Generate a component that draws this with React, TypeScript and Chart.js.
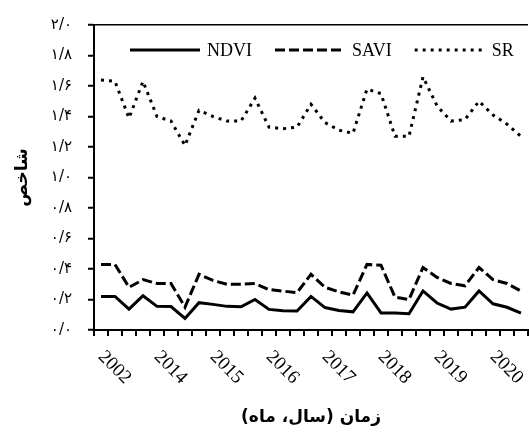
import React, { useEffect, useRef } from 'react';
import { Chart, registerables } from 'chart.js';

Chart.register(...registerables);

// 31 monthly observations; year labels shown every 4th category
const categories: string[] = [
  '2002', '', '', '',
  '2014', '', '', '',
  '2015', '', '', '',
  '2016', '', '', '',
  '2017', '', '', '',
  '2018', '', '', '',
  '2019', '', '', '',
  '2020', '', '',
];

const ndvi: number[] = [
  0.22, 0.22, 0.137, 0.225, 0.155, 0.154, 0.076, 0.179, 0.168, 0.155, 0.152,
  0.2, 0.135, 0.127, 0.125, 0.22, 0.147, 0.128, 0.119, 0.243, 0.112, 0.112,
  0.107, 0.256, 0.177, 0.137, 0.15, 0.256, 0.172, 0.149, 0.11,
];

const savi: number[] = [
  0.43, 0.43, 0.28, 0.33, 0.305, 0.305, 0.15, 0.365, 0.325, 0.3, 0.3,
  0.305, 0.265, 0.255, 0.245, 0.365, 0.28, 0.25, 0.228, 0.43, 0.425, 0.215,
  0.2, 0.41, 0.345, 0.305, 0.29, 0.41, 0.33, 0.305, 0.255,
];

const sr: number[] = [
  1.64, 1.63, 1.39, 1.63, 1.4, 1.37, 1.21, 1.44, 1.4, 1.37, 1.37,
  1.52, 1.33, 1.32, 1.33, 1.48, 1.36, 1.31, 1.29, 1.58, 1.55, 1.27,
  1.27, 1.66, 1.47, 1.37, 1.38, 1.5, 1.41, 1.35, 1.27,
];

const yTickLabels: string[] = [
  '۰/۰', '۰/۲', '۰/۴', '۰/۶', '۰/۸', '۱/۰', '۱/۲', '۱/۴', '۱/۶', '۱/۸', '۲/۰',
];

const seriesNames = ['NDVI', 'SAVI', 'SR'];
const xTitle = 'زمان (سال، ماه)';
const yTitle = 'شاخص';

const SERIF = '"Liberation Serif", "Times New Roman", serif';
const SANS = '"DejaVu Sans", Tahoma, sans-serif';

const xLabelPlugin = {
  id: 'xLabels',
  afterDraw(chart: any) {
    const ctx = chart.ctx;
    const xs = chart.scales.x;
    ctx.save();
    ctx.font = `19px ${SERIF}`;
    ctx.fillStyle = '#000';
    ctx.textAlign = 'left';
    ctx.textBaseline = 'middle';
    categories.forEach((lab, i) => {
      if (!lab) return;
      const x = xs.getPixelForValue(i);
      ctx.save();
      ctx.translate(x, xs.top + 24);
      ctx.rotate(Math.PI / 4);
      ctx.fillText(lab, 0, 0);
      ctx.restore();
    });
    ctx.restore();
  },
};

// Legend drawn inside the plot area, one row, each sample using its dataset's own line style
const legendPlugin = {
  id: 'inlineLegend',
  afterDraw(chart: any) {
    const ctx = chart.ctx;
    const area = chart.chartArea;
    const sampleLen = 70;
    const textGap = 7;
    const itemGap = 23;
    let x = area.left + 36;
    const y = area.top + 25;
    ctx.save();
    ctx.font = `18px ${SERIF}`;
    ctx.textBaseline = 'middle';
    ctx.textAlign = 'left';
    chart.data.datasets.forEach((ds: any) => {
      ctx.save();
      ctx.strokeStyle = ds.borderColor;
      ctx.lineWidth = ds.borderWidth;
      ctx.setLineDash(ds.borderDash || []);
      ctx.lineCap = 'butt';
      ctx.beginPath();
      ctx.moveTo(x, y);
      ctx.lineTo(x + sampleLen, y);
      ctx.stroke();
      ctx.restore();
      x += sampleLen + textGap;
      ctx.fillStyle = '#000';
      ctx.fillText(ds.label, x, y + 1);
      x += ctx.measureText(ds.label).width + itemGap;
    });
    ctx.restore();
  },
};

export default function App() {
  const ref = useRef<HTMLCanvasElement>(null);

  useEffect(() => {
    document.body.style.margin = '0';
    const canvas = ref.current;
    if (!canvas) return;
    const chart = new Chart(canvas, {
      type: 'line',
      data: {
        labels: categories,
        datasets: [
          {
            label: seriesNames[0],
            data: ndvi,
            borderColor: '#000',
            backgroundColor: '#000',
            borderWidth: 3,
            pointRadius: 0,
            tension: 0,
          },
          {
            label: seriesNames[1],
            data: savi,
            borderColor: '#000',
            backgroundColor: '#000',
            borderWidth: 3,
            borderDash: [10, 4],
            pointRadius: 0,
            tension: 0,
          },
          {
            label: seriesNames[2],
            data: sr,
            borderColor: '#000',
            backgroundColor: '#000',
            borderWidth: 3,
            borderDash: [3, 5],
            pointRadius: 0,
            tension: 0,
          },
        ],
      },
      options: {
        responsive: false,
        animation: false,
        layout: { padding: { top: 22, right: 1, left: 0, bottom: 0 } },
        plugins: {
          legend: { display: false },
          tooltip: { enabled: false },
        },
        scales: {
          x: {
            type: 'category',
            offset: true,
            grid: {
              offset: true,
              drawOnChartArea: false,
              color: '#000',
              tickColor: '#000',
              tickLength: 6,
              tickWidth: 2,
              lineWidth: 2,
            },
            border: { display: true, color: '#000', width: 2 },
            ticks: { display: false, autoSkip: false },
            title: {
              display: true,
              text: xTitle,
              color: '#000',
              font: { family: SANS, size: 17, weight: 'bold' },
              padding: { top: 70, bottom: 4 },
            },
            afterFit: (s: any) => {
              s.height = 102;
            },
          },
          y: {
            min: 0,
            max: 2,
            ticks: {
              stepSize: 0.2,
              padding: 16,
              color: '#000',
              font: { family: SANS, size: 15 },
              callback: (_v: any, i: number) => yTickLabels[i],
            },
            grid: {
              color: (c: any) => (c.index === 10 ? '#000' : 'rgba(0,0,0,0)'),
              lineWidth: 1.5,
              tickColor: '#000',
              tickLength: 6,
              tickWidth: 2,
            },
            border: { display: true, color: '#000', width: 2 },
            title: {
              display: true,
              text: yTitle,
              color: '#000',
              font: { family: SANS, size: 17, weight: 'bold' },
              padding: { top: 12, bottom: 0 },
            },
            afterFit: (s: any) => {
              s.width = 94;
            },
          },
        },
      } as any,
      plugins: [xLabelPlugin, legendPlugin],
    });
    return () => chart.destroy();
  }, []);

  return (
    <div style={{ width: 529, height: 432 }}>
      <canvas ref={ref} width={529} height={432} style={{ display: 'block' }} />
    </div>
  );
}
